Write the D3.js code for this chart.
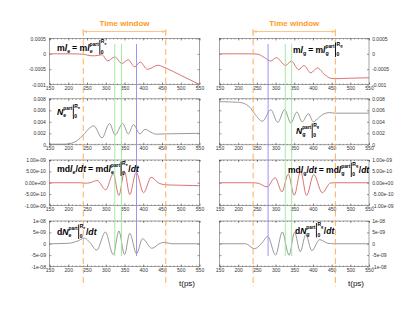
<!DOCTYPE html>
<html><head><meta charset="utf-8">
<script src="https://cdn.jsdelivr.net/npm/d3@7"></script>
<style>
body{margin:0;background:#fff}
svg{display:block}
text{font-family:"Liberation Sans",Arial,sans-serif}
</style>
</head><body>
<svg id="c" width="419" height="324"></svg>
<script>
// ---------- data ----------
const xTicks = [150,200,250,300,350,400,450,500,550];
const xMinor = d3.range(150,551,10);

const yTicksML = [0.0005,0,-0.0005,-0.001];
const yLabML   = ["0.0005","0","-0.0005","-0.001"];
const yTicksN  = [0.008,0.006,0.004,0.002,0];
const yLabN    = ["0.008","0.006","0.004","0.002","0"];
const yTicksMD = [1e-9,5e-10,0,-5e-10,-1e-9];
const yLabMD   = ["1.00e-09","5.00e-10","0.00e+00","-5.00e-10","-1.00e-09"];
const yTicksDN = [1e-8,5e-9,0,-5e-9,-1e-8];
const yLabDN   = ["1e-08","5e-09","0","-5e-09","-1e-08"];

// left column (e)
const tMLe = [150,200,230,245,258,270,290,305,324,343,360,377,392,411,440,450,460,500,550];
const vMLe = [0,0,-0.05e-4,-0.25e-4,-0.6e-4,-0.65e-4,-0.3e-4,-2.3e-4,-1.0e-4,-3.15e-4,-1.95e-4,-4.25e-4,-2.7e-4,-5.05e-4,-3.7e-4,-4.1e-4,-4.6e-4,-7.0e-4,-1.0e-3];
const tNe  = [150,190,210,225,240,255,268,290,310,325,345,360,374,391,405,420,435,460,550];
const vNe  = [0.0001,0.0001,0.0003,0.0008,0.0017,0.0028,0.0033,0.0012,0.0037,0.0017,0.0037,0.0019,0.0035,0.0019,0.0027,0.0022,0.00185,0.0019,0.0020];
const tMDe = [150,230,245,258,277,300,320,335,350,364,381,401,421,440,460,500,550];
const vMDe = [0,0,-0.2e-10,0,1.0e-10,-3.1e-10,4.0e-10,-5.6e-10,5.0e-10,-5.2e-10,4.6e-10,-4.4e-10,2.4e-10,0,-0.9e-10,-1.1e-10,-1.3e-10];
const tDNe = [150,200,225,243,258,276,299,320,335,350,364,382,398,423,445,458,475,550];
const vDNe = [0,0.02e-8,0.12e-8,0.25e-8,0.05e-8,-0.28e-8,0.52e-8,-0.48e-8,0.56e-8,-0.48e-8,0.46e-8,-0.44e-8,0.22e-8,-0.2e-8,0.02e-8,0.06e-8,0,0];

// right column (g)
const tMLg = [150,200,240,255,270,287,302,327,342,362,376,394,412,430,448,460,500,550];
const vMLg = [0,0,0,-0.2e-4,-1.2e-4,-2.35e-4,-1.25e-4,-3.8e-4,-2.35e-4,-5.15e-4,-3.8e-4,-6.2e-4,-4.6e-4,-6.6e-4,-8.0e-4,-8.1e-4,-7.95e-4,-7.8e-4];
const tNg  = [150,200,215,230,245,265,287,306,324,341,357,371,388,401,415,430,445,460,550];
const vNg  = [0.0075,0.0074,0.0072,0.0066,0.0053,0.0041,0.0061,0.0039,0.0061,0.0038,0.0057,0.0040,0.0054,0.0040,0.0047,0.0054,0.0056,0.0055,0.0055];
const tMDg = [150,240,255,277,299,317,334,350,367,383,402,425,447,460,550];
const vMDg = [0,0,-0.3e-10,-1.8e-10,2.2e-10,-4.0e-10,3.8e-10,-5.5e-10,5.0e-10,-5.6e-10,3.6e-10,-4.4e-10,-0.1e-10,0,0];
const tDNg = [150,220,243,262,279,300,318,336,351,366,381,397,418,440,460,550];
const vDNg = [0,0,-0.22e-8,0,0.32e-8,-0.5e-8,0.52e-8,-0.5e-8,0.5e-8,-0.35e-8,0.4e-8,-0.3e-8,0.18e-8,0.02e-8,0,0];

// marker times
const windowT = [240,460];
const blueT  = [382,280];
const greenT = [[324,342],[326,343]];

// ---------- layout ----------
const svg = d3.select("#c");
const colX = [[49.5,199.5],[219.5,369]];
const rowTop = [38.5,98.8,160,221];
const rowH = [46,46,45.5,45.5];
const RED = "#d05050", GRAY = "#808080";
const FONT = '"Liberation Sans",Arial,sans-serif';

const xs = colX.map(r => d3.scaleLinear().domain([150,550]).range(r));

const panels = [
  {col:0,row:0,t:tMLe,v:vMLe,dom:[-0.001,0.0005],ticks:yTicksML,lab:yLabML,color:RED},
  {col:0,row:1,t:tNe,v:vNe,dom:[0,0.008],ticks:yTicksN,lab:yLabN,color:GRAY},
  {col:0,row:2,t:tMDe,v:vMDe,dom:[-1e-9,1e-9],ticks:yTicksMD,lab:yLabMD,color:RED},
  {col:0,row:3,t:tDNe,v:vDNe,dom:[-1e-8,1e-8],ticks:yTicksDN,lab:yLabDN,color:GRAY},
  {col:1,row:0,t:tMLg,v:vMLg,dom:[-0.001,0.0005],ticks:yTicksML,lab:yLabML,color:RED},
  {col:1,row:1,t:tNg,v:vNg,dom:[0,0.008],ticks:yTicksN,lab:yLabN,color:GRAY},
  {col:1,row:2,t:tMDg,v:vMDg,dom:[-1e-9,1e-9],ticks:yTicksMD,lab:yLabMD,color:RED},
  {col:1,row:3,t:tDNg,v:vDNg,dom:[-1e-8,1e-8],ticks:yTicksDN,lab:yLabDN,color:GRAY},
];

function styleAxis(g){
  g.attr("font-size",5).attr("font-family",FONT).attr("color","#333");
  g.select(".domain").remove();
  g.selectAll(".tick line").attr("stroke-width",0.5);
}

panels.forEach(p => {
  const x = xs[p.col];
  const top = rowTop[p.row], h = rowH[p.row];
  const y = d3.scaleLinear().domain(p.dom).range([top+h, top]);
  const g = svg.append("g");
  const [x0,x1] = colX[p.col];
  g.append("rect").attr("x",x0).attr("y",top).attr("width",x1-x0).attr("height",h)
    .attr("fill","none").attr("stroke","#666").attr("stroke-width",0.6);
  g.append("g").attr("transform",`translate(0,${top+h})`)
    .call(d3.axisBottom(x).tickValues(xTicks).tickSize(-2).tickSizeOuter(0).tickPadding(1.8))
    .call(styleAxis);
  g.append("g").attr("transform",`translate(0,${top+h})`)
    .call(d3.axisBottom(x).tickValues(xMinor).tickSize(-1).tickSizeOuter(0).tickFormat(""))
    .call(styleAxis);
  g.append("g").attr("transform",`translate(0,${top})`)
    .call(d3.axisTop(x).tickValues(xTicks).tickSize(-2).tickSizeOuter(0).tickFormat(""))
    .call(styleAxis);
  g.append("g").attr("transform",`translate(0,${top})`)
    .call(d3.axisTop(x).tickValues(xMinor).tickSize(-1).tickSizeOuter(0).tickFormat(""))
    .call(styleAxis);
  const fmt = (d,i) => p.lab[i];
  if (p.col === 0) {
    g.append("g").attr("transform",`translate(${x0},0)`)
      .call(d3.axisLeft(y).tickValues(p.ticks).tickFormat(fmt).tickSize(-2).tickSizeOuter(0).tickPadding(3.6))
      .call(styleAxis);
    g.append("g").attr("transform",`translate(${x1},0)`)
      .call(d3.axisRight(y).tickValues(p.ticks).tickFormat("").tickSize(-2).tickSizeOuter(0))
      .call(styleAxis);
  } else {
    g.append("g").attr("transform",`translate(${x1},0)`)
      .call(d3.axisRight(y).tickValues(p.ticks).tickFormat(fmt).tickSize(-2).tickSizeOuter(0).tickPadding(3.2))
      .call(styleAxis);
    g.append("g").attr("transform",`translate(${x0},0)`)
      .call(d3.axisLeft(y).tickValues(p.ticks).tickFormat("").tickSize(-2).tickSizeOuter(0))
      .call(styleAxis);
  }
  const line = d3.line().x(d=>x(d[0])).y(d=>y(d[1])).curve(d3.curveMonotoneX);
  svg.append("path").datum(d3.zip(p.t,p.v)).attr("d",line)
    .attr("fill","none").attr("stroke",p.color).attr("stroke-width",0.8);
});

[0,1].forEach(c => {
  const x = xs[c];
  const lines = [{t:blueT[c],col:"#8c8cf0"},{t:greenT[c][0],col:"#9be89b"},{t:greenT[c][1],col:"#9be89b"}];
  lines.forEach(l => {
    svg.append("line").attr("x1",x(l.t)).attr("x2",x(l.t)).attr("y1",44).attr("y2",256)
      .attr("stroke",l.col).attr("stroke-width",0.9);
  });
  windowT.forEach(t => {
    svg.append("line").attr("x1",x(t)).attr("x2",x(t)).attr("y1",30).attr("y2",287)
      .attr("stroke","#ffad5c").attr("stroke-width",1).attr("stroke-dasharray","6,3.5");
  });
  const xa = x(windowT[0]), xb = x(windowT[1]), yb = 31.5;
  svg.append("line").attr("x1",xa).attr("x2",xb).attr("y1",yb).attr("y2",yb)
    .attr("stroke","#ffbe7a").attr("stroke-width",0.9);
  svg.append("path").attr("d",`M${xa},${yb}L${xa+3.5},${yb-1.6}L${xa+3.5},${yb+1.6}Z M${xb},${yb}L${xb-3.5},${yb-1.6}L${xb-3.5},${yb+1.6}Z`)
    .attr("fill","#ffbe7a");
  [xa,xb].forEach(xx => svg.append("line").attr("x1",xx).attr("x2",xx).attr("y1",yb-2.5).attr("y2",yb+2.5)
    .attr("stroke","#ffbe7a").attr("stroke-width",0.9));
  svg.append("text").attr("x",(xa+xb)/2).attr("y",26).attr("text-anchor","middle")
    .attr("font-size",8).attr("font-weight","bold").attr("fill","#ff9a1a").text("Time window");
  svg.append("text").attr("x",c===0?187:356).attr("y",285.5).attr("text-anchor","middle")
    .attr("font-size",8).attr("fill","#111").text("t(ps)");
});

// ---------- math labels ----------
function mathLabel(x0,y0,segs,fs){
  const g = svg.append("g");
  let cur = x0, anchor = x0, prevStart = x0;
  segs.forEach(s => {
    if (s.bar) {
      g.append("line").attr("x1",cur+1).attr("x2",cur+1).attr("y1",y0-10.5).attr("y2",y0+4)
        .attr("stroke","#000").attr("stroke-width",0.9);
      cur += 2; return;
    }
    let sx = s.at==="prev" ? prevStart : s.at==="anchor" ? anchor : cur;
    if (s.gap) sx += s.gap;
    const t = g.append("text").attr("x",sx).attr("y",y0+(s.dy||0))
      .attr("font-size",s.fs||fs).attr("font-weight","bold")
      .attr("font-style",s.it?"italic":"normal").attr("fill","#000").text(s.t);
    const w = t.node().getComputedTextLength();
    if (s.mark) anchor = sx;
    prevStart = sx;
    cur = s.at ? Math.max(cur, sx+w) : sx+w;
  });
}
function sub(ch){ return {t:ch,fs:5.3,dy:2}; }
function limits(ch){ return [{bar:1},{t:"R",fs:5,dy:-7.5,mark:1},{t:ch,fs:3.8,dy:-6},{t:"0",fs:5,dy:3,at:"anchor"}]; }
function part(){ return {t:"part",fs:4.8,dy:-5,at:"prev"}; }

function labels(ch, xs0, ys, fs){
  mathLabel(xs0[0], ys[0], [{t:"m"},{t:"l",it:1},sub(ch),{t:"= m",gap:2},{t:"l",it:1},sub(ch),part(),...limits(ch)], fs);
  mathLabel(xs0[1], ys[1], [{t:"N",it:1},sub(ch),part(),...limits(ch)], fs);
  mathLabel(xs0[2], ys[2], [{t:"md"},{t:"l",it:1},sub(ch),{t:"/"},{t:"dt",it:1},{t:"= md",gap:2},{t:"l",it:1},sub(ch),part(),...limits(ch),{t:"/",gap:0.5},{t:"dt",it:1}], fs);
  mathLabel(xs0[3], ys[3], [{t:"d"},{t:"N",it:1},sub(ch),part(),...limits(ch),{t:"/",gap:0.5},{t:"dt",it:1}], fs);
}
labels("e",[57,57,57,57],[50.5,115,172,235],8.7);
labels("g",[293,296,288,295],[53,134,173,233.5],8.5);
</script>
</body></html>
